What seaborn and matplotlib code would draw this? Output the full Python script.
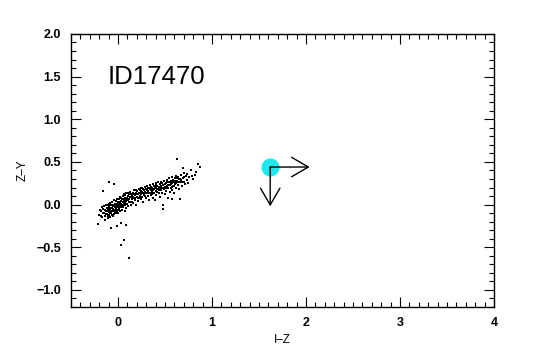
import matplotlib
matplotlib.use("Agg")
import matplotlib.pyplot as plt
import seaborn as sns
import numpy as np
import pandas as pd
from matplotlib.ticker import MultipleLocator

# I-Z colour values of field sources (read by eye)
iz = [
 -0.20,-0.18,-0.17,-0.16,-0.15,-0.15,-0.14,-0.13,-0.13,-0.12,-0.12,-0.11,-0.11,-0.10,-0.10,-0.10,
 -0.09,-0.09,-0.08,-0.08,-0.08,-0.07,-0.07,-0.07,-0.06,-0.06,-0.06,-0.05,-0.05,-0.05,-0.04,-0.04,
 -0.04,-0.03,-0.03,-0.03,-0.02,-0.02,-0.02,-0.01,-0.01,-0.01,0.00,0.00,0.00,0.01,0.01,0.01,0.02,
 0.02,0.02,0.03,0.03,0.04,0.04,0.04,0.05,0.05,0.05,0.06,0.06,0.06,0.07,0.07,0.07,0.08,0.08,0.08,
 0.09,0.09,0.09,0.10,0.10,0.11,0.11,0.11,0.12,0.12,0.13,0.13,0.14,0.14,0.15,0.15,0.16,0.16,0.17,
 0.17,0.18,0.18,0.19,0.19,0.20,0.20,0.21,0.21,0.22,0.22,0.23,0.23,0.24,0.24,0.25,0.25,0.26,0.26,
 0.27,0.27,0.28,0.28,0.29,0.29,0.30,0.30,0.31,0.31,0.32,0.32,0.33,0.33,0.34,0.34,0.35,0.35,0.36,
 0.36,0.37,0.37,0.38,0.38,0.39,0.39,0.40,0.40,0.41,0.41,0.42,0.42,0.43,0.43,0.44,0.44,0.45,0.45,
 0.46,0.46,0.47,0.47,0.48,0.48,0.48,0.49,0.49,0.50,0.50,0.51,0.51,0.52,0.52,0.53,0.53,0.54,0.54,
 0.55,0.55,0.56,0.56,0.57,0.57,0.58,0.58,0.59,0.59,0.60,0.60,0.61,0.61,0.62,0.62,0.63,0.63,0.64,
 0.64,0.65,0.65,0.66,0.66,0.67,0.67,0.68,0.69,0.69,0.70,0.70,0.71,0.72,0.73,0.74,0.75,0.76,0.78,
 0.79,0.80,0.82,0.83,0.85,0.87,
 -0.10,-0.04,-0.16,0.06,0.03,0.12,-0.21,-0.07,-0.01,0.03,0.09,0.39,
 -0.19,-0.18,-0.17,-0.16,-0.14,-0.14,-0.13,-0.12,-0.11,-0.11,-0.10,-0.09,-0.09,-0.08,-0.07,-0.06,
 -0.06,-0.05,-0.05,-0.04,-0.03,-0.02,-0.02,-0.01,0.00,0.00,0.01,0.02,0.03,0.03,0.04,0.05,0.06,
 0.07,0.08,0.09,0.10,0.11,0.12,0.13,0.14,0.15,0.16,0.17,0.18,0.19,0.20,0.21,0.22,0.23,0.24,0.25,
 0.26,0.27,0.28,0.29,0.30,0.31,0.32,0.33,0.34,0.35,0.36,0.37,0.38,0.40,0.41,0.42,0.44,0.45,0.46,
 0.47,0.48,0.50,0.51,0.52,0.53,0.55,0.56,0.57,0.58,0.59,0.60,0.61,0.62,0.63,0.64,0.66,0.68,0.70,
]
# Z-Y colour values of field sources (read by eye)
zy = [
 -0.12,-0.08,-0.15,-0.05,-0.10,-0.02,-0.13,-0.07,0.00,-0.11,-0.04,-0.16,-0.08,-0.01,-0.06,-0.12,
 -0.03,-0.09,0.02,-0.05,-0.14,-0.07,-0.01,-0.10,0.03,-0.04,-0.12,-0.08,0.00,-0.02,-0.06,0.05,
 -0.11,-0.03,0.01,-0.09,0.04,-0.05,-0.01,-0.07,0.07,0.00,-0.03,0.03,-0.10,0.06,-0.01,-0.05,0.02,
 0.09,-0.08,0.04,-0.02,0.07,0.00,-0.06,0.10,0.03,-0.03,0.05,0.12,-0.01,0.08,0.02,-0.07,0.06,0.11,
 0.00,0.04,0.13,-0.04,0.08,0.01,0.10,0.05,-0.02,0.12,0.07,0.03,0.15,0.09,0.00,0.11,0.06,0.14,0.02,
 0.08,0.17,0.11,0.05,0.13,-0.01,0.09,0.16,0.12,0.04,0.18,0.08,0.14,0.10,0.20,0.06,0.12,0.16,0.09,
 0.19,0.14,0.03,0.17,0.11,0.21,0.15,0.08,0.18,0.13,0.22,0.16,0.10,0.19,0.05,0.14,0.23,0.17,0.11,
 0.20,0.15,0.08,0.24,0.18,0.13,0.21,0.05,0.16,0.25,0.19,0.11,0.22,0.15,0.18,0.26,0.13,0.21,0.24,
 0.09,0.17,0.27,0.20,0.14,0.23,0.00,-0.05,0.18,0.28,0.21,0.12,0.25,0.16,0.29,0.22,0.19,0.08,0.26,
 0.31,0.23,0.15,0.28,0.20,0.06,0.32,0.25,0.17,0.29,0.22,0.27,0.13,0.31,0.24,0.20,0.34,0.28,0.53,
 0.23,0.32,0.18,0.30,0.06,0.26,0.35,0.29,0.22,0.43,0.31,0.27,0.37,0.24,0.33,0.29,0.36,0.25,0.32,
 0.41,0.34,0.30,0.35,0.38,0.47,0.44,
 0.26,0.24,0.16,-0.41,-0.47,-0.63,-0.23,-0.27,-0.25,-0.22,-0.24,0.05,
 -0.06,-0.13,-0.03,-0.10,-0.06,-0.18,-0.11,-0.01,-0.05,-0.13,-0.09,-0.06,0.01,-0.10,-0.04,-0.08,
 0.00,-0.05,-0.13,-0.02,-0.06,-0.10,0.01,-0.03,0.01,-0.06,0.03,-0.03,0.01,0.08,-0.03,0.06,0.02,
 0.05,0.03,0.08,0.05,0.13,0.03,0.09,0.12,0.03,0.09,0.12,0.08,0.17,0.12,0.08,0.14,0.17,0.13,0.09,
 0.15,0.18,0.13,0.10,0.14,0.17,0.20,0.14,0.18,0.21,0.12,0.17,0.22,0.19,0.23,0.18,0.17,0.20,0.22,
 0.25,0.19,0.24,0.20,0.26,0.23,0.27,0.24,0.21,0.28,0.26,0.22,0.28,0.25,0.31,0.27,0.30,0.27,0.32,
]

# Target object and its limit arrows
target_iz = [1.62]
target_zy = [0.44]
arrow_dx = 0.42
arrow_dy = -0.46
label_text = "ID17470"

sns.set_style("ticks")
plt.rcParams['font.family'] = ['Liberation Sans', 'DejaVu Sans']
plt.rcParams['text.color'] = 'black'
plt.rcParams['axes.labelcolor'] = 'black'

fig = plt.figure(figsize=(5.5, 3.5), dpi=100)
ax = fig.add_axes([0.129, 0.123, 0.769, 0.780])

df = pd.DataFrame({"iz": iz, "zy": zy})
sns.scatterplot(data=df, x="iz", y="zy", ax=ax, color="black", marker="s",
                s=4, linewidth=0, legend=False)
sns.scatterplot(x=target_iz, y=target_zy, ax=ax, color="#1ee8ec", s=170,
                linewidth=0, legend=False, zorder=3)

for dx, dy in [(arrow_dx, 0), (0, arrow_dy)]:
    ax.annotate("", xy=(target_iz[0] + dx, target_zy[0] + dy),
                xytext=(target_iz[0], target_zy[0]),
                arrowprops=dict(arrowstyle="->,head_length=0.6,head_width=0.35",
                                color="black", lw=1.0, shrinkA=0, shrinkB=0,
                                mutation_scale=20),
                zorder=4)

ax.text(-0.11, 1.49, label_text, fontsize=18.5, va="center", ha="left",
        color="black")

ax.set_xlim(-0.5, 4)
ax.set_ylim(-1.2, 2.0)
ax.xaxis.set_major_locator(MultipleLocator(1))
ax.xaxis.set_minor_locator(MultipleLocator(0.1))
ax.yaxis.set_major_locator(MultipleLocator(0.5))
ax.yaxis.set_minor_locator(MultipleLocator(0.1))
ax.xaxis.set_major_formatter(matplotlib.ticker.FuncFormatter(lambda v, p: f"{v:.0f}"))
ax.yaxis.set_major_formatter(matplotlib.ticker.FuncFormatter(
    lambda v, p: f"{v:.1f}".replace("-", "\u2212")))
ax.tick_params(which="both", direction="in", top=True, right=True, width=0.8,
               colors="black", labelsize=9, pad=7)
ax.tick_params(which="major", length=7)
ax.tick_params(which="minor", length=3.5)
for lbl in ax.get_xticklabels() + ax.get_yticklabels():
    lbl.set_fontweight("bold")
for s in ax.spines.values():
    s.set_linewidth(1.0)
    s.set_color("black")

ax.set_xlabel("I\u2013Z", fontsize=8.5, labelpad=4, color="black")
ax.set_ylabel("Z\u2013Y", fontsize=8.5, labelpad=6, color="black")

fig.savefig("out.png", dpi=100)
